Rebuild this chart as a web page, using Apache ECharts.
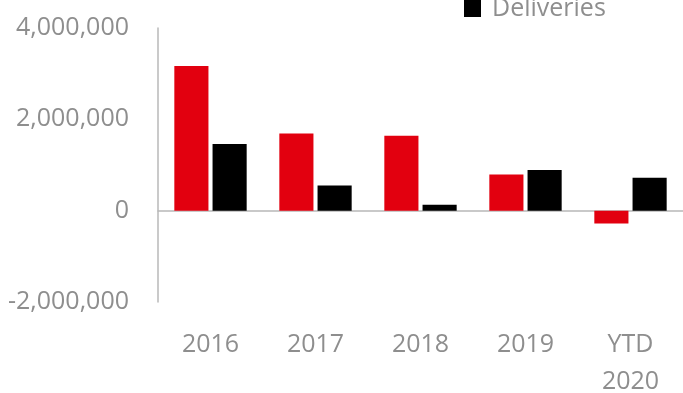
<!DOCTYPE html>
<html>
<head>
<meta charset="utf-8">
<script src="https://cdn.jsdelivr.net/npm/echarts@6/dist/echarts.min.js"></script>
<style>
  html, body { margin: 0; padding: 0; background: #fff; }
  #chart { width: 683px; height: 393px; }
</style>
</head>
<body>
<div id="chart"></div>
<script>
// Annual figures, in units
const categories = ['2016', '2017', '2018', '2019', 'YTD\n2020'];
const netOrders = [3170000, 1690000, 1640000, 790000, -280000];
const deliveries = [1460000, 550000, 130000, 890000, 720000];
const yTicks = { min: -2000000, max: 4000000, interval: 2000000 };

const font = '"Open Sans", "Liberation Sans", sans-serif';
const textGray = '#8e8e8e';

const chart = echarts.init(document.getElementById('chart'));
chart.setOption({
  animation: false,
  backgroundColor: '#ffffff',
  textStyle: { fontFamily: font },
  legend: {
    data: ['Deliveries'],
    left: 459,
    top: -9,
    icon: 'rect',
    itemWidth: 17,
    itemHeight: 17,
    itemGap: 10,
    textStyle: { fontFamily: font, fontSize: 25, color: textGray, padding: [0, 0, 0, 6] }
  },
  grid: { left: 158, right: 0, top: 28, bottom: 91, outerBoundsMode: 'none', containLabel: false },
  xAxis: [
    {
      type: 'category',
      data: categories,
      position: 'bottom',
      axisLine: { show: false, onZero: false },
      axisTick: { show: false },
      axisLabel: {
        fontFamily: font,
        fontSize: 25,
        color: textGray,
        margin: 24,
        lineHeight: 37
      }
    },
    {
      // zero baseline across the plot
      type: 'category',
      data: categories,
      position: 'bottom',
      axisLine: { show: true, onZero: true, lineStyle: { color: '#b8b8b8', width: 1.5 } },
      axisTick: { show: false },
      axisLabel: { show: false }
    }
  ],
  yAxis: {
    type: 'value',
    min: yTicks.min,
    max: yTicks.max,
    interval: yTicks.interval,
    axisLine: { show: true, lineStyle: { color: '#b8b8b8', width: 1.5 } },
    axisTick: { show: false },
    splitLine: { show: false },
    axisLabel: {
      fontFamily: font,
      fontSize: 25,
      color: textGray,
      margin: 29,
      formatter: v => v.toLocaleString('en-US')
    }
  },
  series: [
    {
      name: 'Net orders',
      type: 'bar',
      xAxisIndex: 0,
      data: netOrders,
      barWidth: '32.5%',
      barGap: '12%',
      itemStyle: { color: '#e2000f' }
    },
    {
      name: 'Deliveries',
      type: 'bar',
      xAxisIndex: 0,
      data: deliveries,
      barWidth: '32.5%',
      barGap: '12%',
      itemStyle: { color: '#000000' }
    }
  ]
});
</script>
</body>
</html>
